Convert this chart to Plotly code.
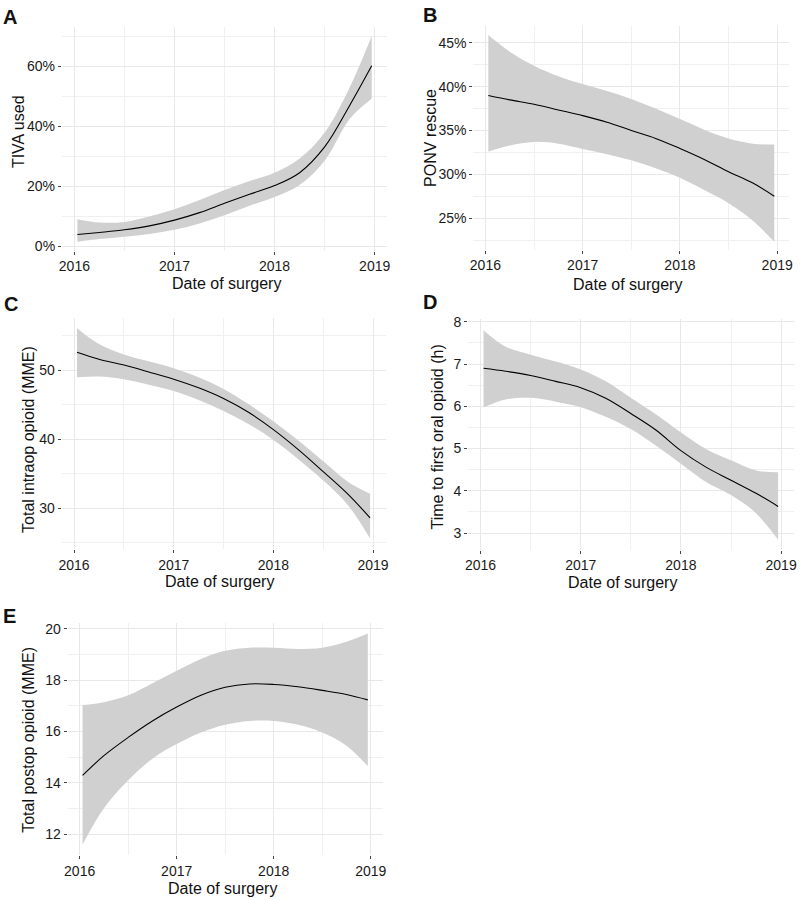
import plotly.graph_objects as go

# ---------------- data ----------------
years = [2016.03, 2016.25, 2016.5, 2016.75, 2017.0, 2017.25, 2017.5,
         2017.75, 2018.0, 2018.25, 2018.5, 2018.75, 2018.97]

tiva_fit = [4.0, 4.7, 5.6, 6.9, 8.8, 11.3, 14.4, 17.4, 20.3, 24.6, 33.2, 47.0, 60.2]
tiva_hi = [9.1, 8.0, 8.2, 10.0, 12.4, 15.5, 18.8, 21.8, 24.6, 29.3, 38.0, 53.0, 70.1]
tiva_lo = [1.6, 2.5, 3.3, 4.2, 5.6, 7.7, 10.4, 13.6, 16.5, 20.5, 28.6, 42.5, 49.2]

ponv_fit = [39.0, 38.5, 38.0, 37.35, 36.7, 35.95, 35.0, 34.1, 32.95, 31.7, 30.3, 29.0, 27.5]
ponv_hi = [45.9, 44.0, 42.4, 41.2, 40.3, 39.5, 38.6, 37.5, 36.3, 35.1, 34.1, 33.5, 33.4]
ponv_lo = [32.6, 33.3, 33.7, 33.5, 32.9, 32.3, 31.6, 30.7, 29.6, 28.2, 26.7, 24.7, 22.3]

intra_fit = [52.6, 51.6, 50.75, 49.75, 48.7, 47.45, 45.9, 43.9, 41.4, 38.5, 35.3, 32.0, 28.6]
intra_hi = [56.1, 53.8, 52.3, 51.3, 50.3, 49.0, 47.3, 45.1, 42.6, 39.8, 36.8, 33.8, 32.1]
intra_lo = [49.0, 49.1, 48.7, 47.9, 47.0, 45.7, 44.1, 42.2, 39.9, 37.1, 34.0, 30.4, 25.6]

oral_fit = [6.90, 6.83, 6.73, 6.59, 6.44, 6.19, 5.83, 5.44, 4.95, 4.56, 4.25, 3.94, 3.63]
oral_hi = [7.80, 7.41, 7.22, 7.06, 6.87, 6.59, 6.20, 5.81, 5.38, 4.99, 4.72, 4.48, 4.44]
oral_lo = [5.97, 6.16, 6.20, 6.11, 5.98, 5.75, 5.46, 5.07, 4.64, 4.21, 3.90, 3.47, 2.84]

postop_fit = [14.29, 15.06, 15.77, 16.41, 16.95, 17.41, 17.72, 17.85, 17.83, 17.74, 17.60, 17.44, 17.23]
postop_hi = [17.03, 17.14, 17.41, 17.88, 18.36, 18.82, 19.14, 19.26, 19.26, 19.21, 19.26, 19.49, 19.81]
postop_lo = [11.60, 13.01, 14.10, 14.94, 15.51, 15.96, 16.26, 16.41, 16.41, 16.26, 15.96, 15.45, 14.65]

x_ticks = [2016, 2017, 2018, 2019]
x_tick_labels = ["2016", "2017", "2018", "2019"]

panel_letters = ["A", "B", "C", "D", "E"]
y_titles = ["TIVA used", "PONV rescue", "Total intraop opioid (MME)",
            "Time to first oral opioid (h)", "Total postop opioid (MME)"]
x_title = "Date of surgery"

# ---------------- layout geometry (pixels) ----------------
W, H = 800, 900
FONT = "Liberation Sans, Arial, sans-serif"
RIBBON = "#d0d0d0"
GRID = "#e8e8e8"
MINOR = "#f0f0f0"
SMOOTH = 1.0

panels = [
    dict(fit=tiva_fit, hi=tiva_hi, lo=tiva_lo, xpx=(59.4, 387.6), ypx=(22, 248),
         yr=(-1.32, 73.19), dt=20, suf="%", yt=(15, 127.5), xt=(225, 281), let=(7, 12)),
    dict(fit=ponv_fit, hi=ponv_hi, lo=ponv_lo, xpx=(474.4, 793.3), ypx=(21, 247),
         yr=(21.42, 46.95), dt=5, suf="%", yt=(431, 134), xt=(630, 282), let=(431, 10)),
    dict(fit=intra_fit, hi=intra_hi, lo=intra_lo, xpx=(59.1, 385.9), ypx=(316, 549.6),
         yr=(24.07, 57.6), dt=10, suf="", yt=(25, 438.5), xt=(218, 582), let=(8, 302)),
    dict(fit=oral_fit, hi=oral_hi, lo=oral_lo, xpx=(469.1, 797.6), ypx=(317, 550),
         yr=(2.61, 8.07), dt=1, suf="", yt=(438, 436.7), xt=(625, 583), let=(431, 300)),
    dict(fit=postop_fit, hi=postop_hi, lo=postop_lo, xpx=(65.1, 383.2), ypx=(624.3, 858.7),
         yr=(11.19, 20.22), dt=2, suf="", yt=(25, 742.5), xt=(221, 892), let=(7, 617)),
]

fig = go.Figure()
annotations = []
layout_axes = {}

for i, p in enumerate(panels):
    n = "" if i == 0 else str(i + 1)
    xa, ya = "x" + n, "y" + n
    fig.add_trace(go.Scatter(x=years, y=p["lo"], mode="lines", xaxis=xa, yaxis=ya,
                             line=dict(width=0, shape="spline", smoothing=SMOOTH),
                             hoverinfo="skip", showlegend=False))
    fig.add_trace(go.Scatter(x=years, y=p["hi"], mode="lines", xaxis=xa, yaxis=ya,
                             line=dict(width=0, shape="spline", smoothing=SMOOTH),
                             fill="tonexty", fillcolor=RIBBON,
                             hoverinfo="skip", showlegend=False))
    fig.add_trace(go.Scatter(x=years, y=p["fit"], mode="lines", xaxis=xa, yaxis=ya,
                             line=dict(color="black", width=1.1, shape="spline", smoothing=SMOOTH),
                             showlegend=False))

    xl, xr = p["xpx"]
    yt, yb = p["ypx"]
    layout_axes["xaxis" + n] = dict(
        domain=[xl / W, xr / W], range=[2015.875, 2019.125], anchor=ya,
        tickmode="array", tickvals=x_ticks, ticktext=x_tick_labels,
        ticks="outside", ticklen=3, tickwidth=0.8, tickcolor="#444",
        tickfont=dict(family=FONT, size=14, color="#1a1a1a"),
        showgrid=True, gridcolor=GRID, gridwidth=1,
        minor=dict(tick0=2016, dtick=0.5, showgrid=True, gridcolor=MINOR, gridwidth=1, ticks=""),
        zeroline=False, showline=False, fixedrange=True,
    )
    layout_axes["yaxis" + n] = dict(
        domain=[1 - yb / H, 1 - yt / H], range=list(p["yr"]), anchor=xa,
        tickmode="linear", tick0=0, dtick=p["dt"], ticksuffix=p["suf"],
        ticks="outside", ticklen=3, tickwidth=0.8, tickcolor="#444",
        tickfont=dict(family=FONT, size=14, color="#1a1a1a"),
        showgrid=True, gridcolor=GRID, gridwidth=1,
        minor=dict(tick0=0, dtick=p["dt"] / 2, showgrid=True, gridcolor=MINOR, gridwidth=1, ticks=""),
        zeroline=False, showline=False, fixedrange=True,
    )
    annotations.append(dict(text=y_titles[i], x=p["yt"][0] / W, y=1 - p["yt"][1] / H,
                            xref="paper", yref="paper", showarrow=False, textangle=-90,
                            xanchor="center", yanchor="middle",
                            font=dict(family=FONT, size=16, color="#111")))
    annotations.append(dict(text=x_title, x=p["xt"][0] / W, y=1 - p["xt"][1] / H,
                            xref="paper", yref="paper", showarrow=False,
                            xanchor="center", yanchor="middle",
                            font=dict(family=FONT, size=16, color="#111")))
    annotations.append(dict(text="<b>" + panel_letters[i] + "</b>", x=p["let"][0] / W,
                            y=1 - p["let"][1] / H, xref="paper", yref="paper",
                            showarrow=False, xanchor="center", yanchor="middle",
                            font=dict(family=FONT, size=20, color="#111")))

fig.update_layout(
    width=W, height=H, margin=dict(l=0, r=0, t=0, b=0),
    paper_bgcolor="white", plot_bgcolor="white",
    showlegend=False, annotations=annotations, **layout_axes,
)

fig.write_html(
    "out.html",
    config={"displayModeBar": False},
    post_script="document.body.style.margin='0';document.body.style.overflow='hidden';",
)
